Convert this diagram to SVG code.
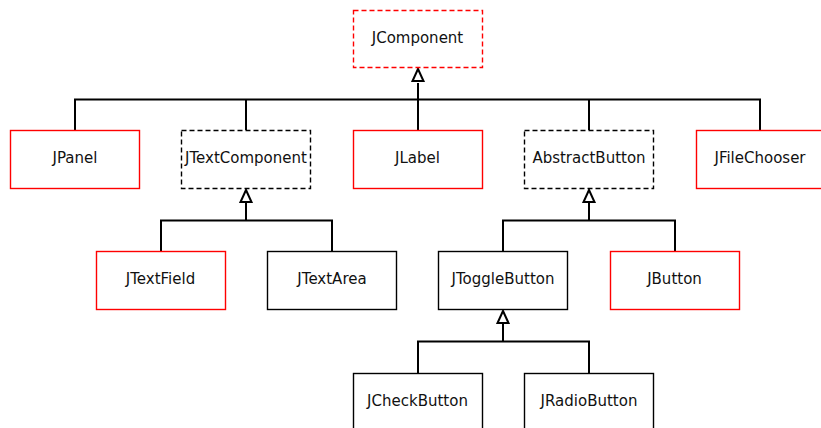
<svg xmlns="http://www.w3.org/2000/svg" width="821" height="428" viewBox="0 0 821 428">
<style>
.b{fill:#fff;stroke-width:1.4}
.r{stroke:#ff0000}
.k{stroke:#000}
.d{stroke-dasharray:5,3}
text{font-family:"DejaVu Sans",sans-serif;font-size:15px;fill:#111;text-anchor:middle;dominant-baseline:central}
.c{fill:none;stroke:#000;stroke-width:2}
.a{fill:#fff;stroke:#000;stroke-width:2;stroke-linejoin:miter}
</style>
<rect width="821" height="428" fill="#fff"/>
<g id="connectors">
<path class="c" d="M75 130V99.5H760V130M246 99.5V130M418 83V130M589 99.5V130"/>
<polygon class="a" points="418,69 412.5,81 423.5,81"/>
<path class="c" d="M161 251V220.5H332V251M246 203V220.5"/>
<polygon class="a" points="246,190 240.5,202 251.5,202"/>
<path class="c" d="M503 251V220.5H675V251M589 203V220.5"/>
<polygon class="a" points="589,190 583.5,202 594.5,202"/>
<path class="c" d="M418 373V341.5H589V373M503 324V341.5"/>
<polygon class="a" points="503,311 497.5,323 508.5,323"/>
</g>
<g id="JComponent"><rect class="b r d" x="353.5" y="10.5" width="129" height="57"/><text x="417.5" y="38">JComponent</text></g>
<g id="JPanel"><rect class="b r" x="10.5" y="130.5" width="129" height="58"/><text x="75" y="158">JPanel</text></g>
<g id="JTextComponent"><rect class="b k d" x="181.5" y="130.5" width="129" height="58"/><text x="246" y="158">JTextComponent</text></g>
<g id="JLabel"><rect class="b r" x="353.5" y="130.5" width="129" height="58"/><text x="417.5" y="158">JLabel</text></g>
<g id="AbstractButton"><rect class="b k d" x="524.5" y="130.5" width="129" height="58"/><text x="589" y="158">AbstractButton</text></g>
<g id="JFileChooser"><rect class="b r" x="696.5" y="130.5" width="129" height="58"/><text x="760" y="158">JFileChooser</text></g>
<g id="JTextField"><rect class="b r" x="96.5" y="251.5" width="129" height="58"/><text x="160.5" y="279">JTextField</text></g>
<g id="JTextArea"><rect class="b k" x="267.5" y="251.5" width="129" height="58"/><text x="332" y="279">JTextArea</text></g>
<g id="JToggleButton"><rect class="b k" x="438.5" y="251.5" width="129" height="58"/><text x="503" y="279">JToggleButton</text></g>
<g id="JButton"><rect class="b r" x="610.5" y="251.5" width="129" height="58"/><text x="674.5" y="279">JButton</text></g>
<g id="JCheckButton"><rect class="b k" x="353.5" y="373.5" width="129" height="58"/><text x="417.5" y="401">JCheckButton</text></g>
<g id="JRadioButton"><rect class="b k" x="524.5" y="373.5" width="129" height="58"/><text x="589" y="401">JRadioButton</text></g>
</svg>
